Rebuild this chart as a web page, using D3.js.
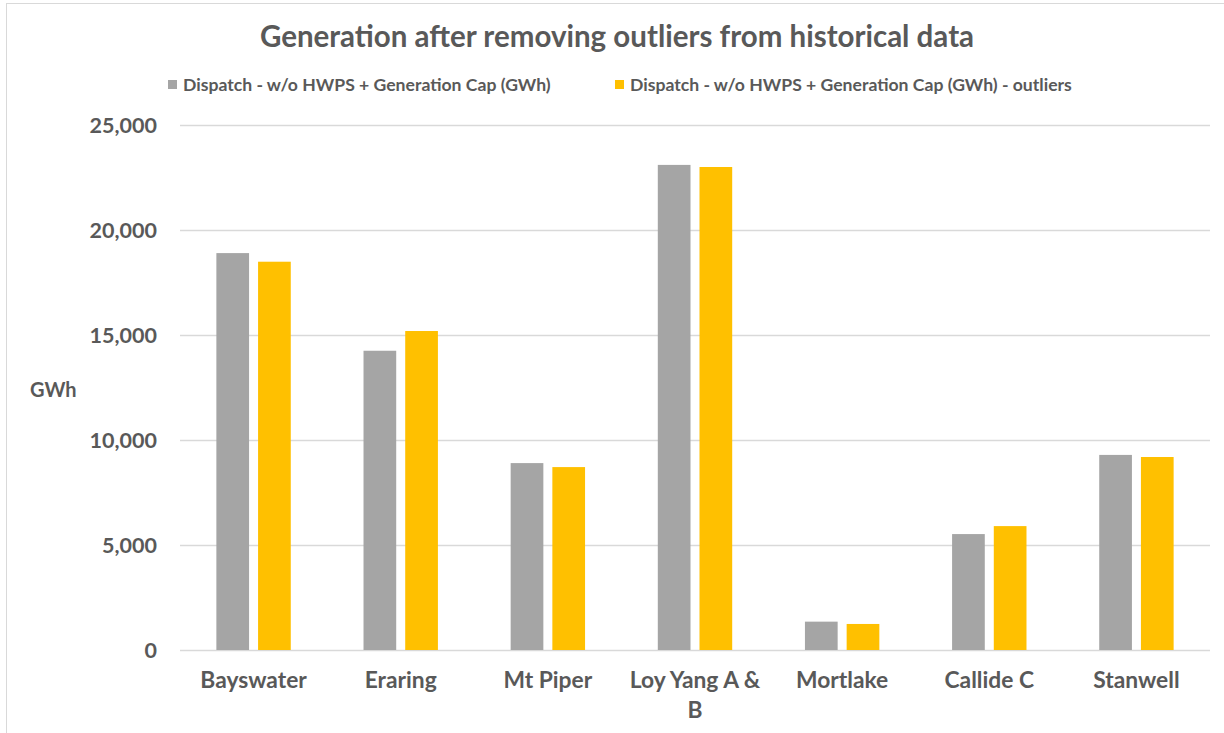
<!DOCTYPE html>
<html>
<head>
<meta charset="utf-8">
<script src="https://cdn.jsdelivr.net/npm/d3@7"></script>
<style>
  body { margin: 0; background: #fff; }
  svg text { font-family: Lato, "Open Sans", sans-serif; font-weight: bold; fill: #595959; }
</style>
</head>
<body>
<div id="chart"></div>
<script>
const categories = ['Bayswater', 'Eraring', 'Mt Piper', 'Loy Yang A & B', 'Mortlake', 'Callide C', 'Stanwell'];
const seriesNames = ['Dispatch - w/o HWPS + Generation Cap (GWh)', 'Dispatch - w/o HWPS + Generation Cap (GWh) - outliers'];
const dispatchValues = [18900, 14250, 8900, 23100, 1350, 5520, 9290];
const outlierValues = [18490, 15190, 8710, 23000, 1240, 5900, 9190];
const yTicks = [0, 5000, 10000, 15000, 20000, 25000];
const colors = ['#a5a5a5', '#ffc000'];

const width = 1224, height = 733;
const margin = { top: 125, right: 14, bottom: 83, left: 180 };

const svg = d3.select('#chart').append('svg')
  .attr('width', width).attr('height', height);

// chart border
svg.append('rect').attr('x', 6.5).attr('y', 3.5).attr('width', width).attr('height', height)
  .attr('fill', 'none').attr('stroke', '#d9d9d9');

const x0 = d3.scaleBand().domain(categories).range([margin.left, width - margin.right]);
const y = d3.scaleLinear().domain([0, 25000]).range([height - margin.bottom, margin.top]);
const barW = 32.7, gap = 9;

svg.append('g').attr('class', 'grid')
  .attr('transform', 'translate(' + margin.left + ',0)')
  .call(d3.axisLeft(y).tickValues(yTicks).tickSize(-(width - margin.right - margin.left)).tickFormat(''))
  .call((g) => g.select('.domain').remove())
  .call((g) => g.selectAll('line').attr('stroke', '#d9d9d9').attr('stroke-width', 1.3));

svg.append('g')
  .selectAll('text').data(yTicks).enter().append('text')
  .attr('x', 157).attr('y', (d) => y(d)).attr('dy', '0.35em')
  .attr('text-anchor', 'end').style('font-size', '21.5px')
  .text(d3.format(','));

svg.append('text').attr('x', 30).attr('y', 390).attr('dy', '0.35em')
  .style('font-size', '20px').text('GWh');

const rows = categories.map((c, i) => ({ c, values: [dispatchValues[i], outlierValues[i]] }));
const groups = svg.append('g').selectAll('g').data(rows).enter().append('g');
groups.selectAll('rect').data((d) => d.values.map((v, k) => ({ c: d.c, v, k }))).enter().append('rect')
  .attr('x', (d) => x0(d.c) + x0.bandwidth() / 2 - gap / 2 - barW + d.k * (barW + gap))
  .attr('y', (d) => y(d.v))
  .attr('width', barW)
  .attr('height', (d) => y(0) - y(d.v))
  .attr('fill', (d) => colors[d.k]);

// x labels
const labels = svg.append('g').selectAll('text').data(categories).enter().append('text')
  .attr('x', (d) => x0(d) + x0.bandwidth() / 2).attr('y', 688)
  .attr('text-anchor', 'middle').style('font-size', '22.8px');
labels.each(function (d) {
  const parts = d === 'Loy Yang A & B' ? ['Loy Yang A &', 'B'] : [d];
  const t = d3.select(this);
  parts.forEach((p, i) => t.append('tspan').attr('x', x0(d) + x0.bandwidth() / 2).attr('dy', i ? 30 : 0).text(p));
});

svg.append('text').attr('x', 617).attr('y', 47).attr('text-anchor', 'middle')
  .style('font-size', '29.5px').text('Generation after removing outliers from historical data');

const legendX = [168, 615];
seriesNames.forEach((name, i) => {
  svg.append('rect').attr('x', legendX[i]).attr('y', 80).attr('width', 9).attr('height', 9).attr('fill', colors[i]);
  svg.append('text').attr('x', legendX[i] + 15).attr('y', 85).attr('dy', '0.35em')
    .style('font-size', '17.6px').text(name);
});
</script>
</body>
</html>
